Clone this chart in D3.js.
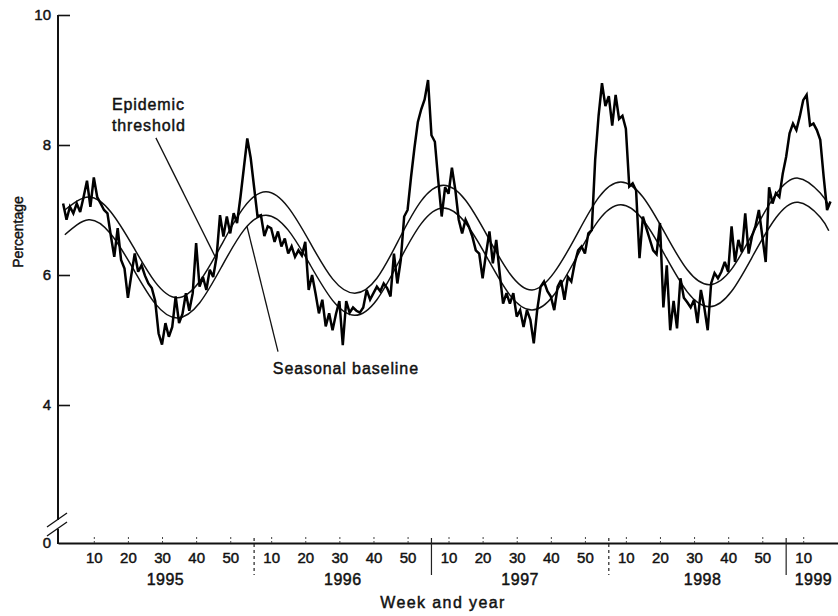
<!DOCTYPE html>
<html>
<head>
<meta charset="utf-8">
<script src="https://cdn.jsdelivr.net/npm/d3@7/dist/d3.min.js"></script>
<style>
  body { margin: 0; background: #fff; }
  svg text { font-family: "Liberation Sans", Arial, Helvetica, sans-serif; fill: #111; stroke: #111; stroke-width: 0.45px; }
</style>
</head>
<body>
<div id="chart"></div>
<script>
// weekly percentage, one array per year (week 1 = first value)
var years = [1995, 1996, 1997, 1998, 1999];
var pct1995 = [7.1, 6.85, 7.05, 6.95, 7.1, 6.97, 7.2, 7.45, 7.05, 7.5, 7.2, 7.1, 7.0, 6.95, 6.6, 6.28, 6.72, 6.23, 6.1, 5.65,
  6.0, 6.33, 6.05, 6.15, 5.99, 5.87, 5.8, 5.6, 5.1, 4.93, 5.26, 5.05, 5.2, 5.67, 5.26, 5.4, 5.72, 5.45, 5.72, 6.49,
  5.82, 5.97, 5.77, 6.08, 5.97, 6.28, 6.92, 6.59, 6.9, 6.64, 6.95, 6.8];
var pct1996 = [7.2, 7.65, 8.1, 7.8, 7.35, 6.9, 6.92, 6.6, 6.75, 6.72, 6.51, 6.67, 6.44, 6.56, 6.33, 6.44, 6.28, 6.38, 6.3, 6.51,
  5.77, 6.0, 5.72, 5.41, 5.62, 5.21, 5.41, 5.15, 5.4, 5.6, 4.92, 5.6, 5.42, 5.5, 5.45, 5.42, 5.5, 5.77, 5.62, 5.72,
  5.82, 5.75, 5.87, 5.8, 5.67, 6.33, 5.87, 6.23, 6.9, 7.0, 7.5, 7.95];
var pct1997 = [8.35, 8.55, 8.7, 9.0, 8.15, 8.05, 7.45, 6.9, 7.35, 7.25, 7.65, 7.31, 6.85, 6.64, 6.85, 6.74, 6.59, 6.38, 6.33, 5.95,
  6.33, 6.67, 6.18, 6.54, 6.03, 5.56, 5.72, 5.56, 5.72, 5.36, 5.46, 5.2, 5.46, 5.31, 4.95, 5.46, 5.82, 5.9, 5.75, 5.67,
  5.46, 5.82, 5.92, 5.62, 5.97, 5.9, 6.18, 6.38, 6.44, 6.33, 6.64, 6.69];
var pct1998 = [7.77, 8.45, 8.95, 8.6, 8.75, 8.3, 8.77, 8.4, 8.45, 8.25, 7.36, 7.41, 7.3, 6.26, 6.9, 6.72, 6.55, 6.38, 6.32, 6.8,
  5.5, 6.15, 5.15, 5.6, 5.18, 5.95, 5.65, 5.58, 5.5, 5.62, 5.26, 5.77, 5.5, 5.15, 5.87, 6.03, 5.95, 6.05, 6.2, 6.05,
  6.75, 6.2, 6.54, 6.35, 6.95, 6.33, 6.6, 6.75, 7.0, 6.6, 6.2, 7.35];
var pct1999 = [7.1, 7.26, 7.2, 7.56, 7.82, 8.18, 8.33, 8.23, 8.44, 8.69, 8.77, 8.3, 8.33, 8.23, 8.08, 7.51, 7.0, 7.13];

// seasonal curves, sampled at running week index
var curveWeeks = [1.5, 8.5, 15, 21.5, 28, 34.5, 41, 47.5, 54, 60.5, 67, 73.5, 80, 86.5, 93, 99.5, 106, 112.5,
  119, 125.5, 132, 138.5, 145, 151.5, 158, 164.5, 171, 177.5, 184, 190.5, 197, 203.5, 210, 216.5, 223, 225.5];
var baseline = [6.62, 6.85, 6.63, 6.10, 5.56, 5.34, 5.57, 6.13, 6.69, 6.92, 6.69, 6.15, 5.61, 5.38, 5.62, 6.21, 6.79, 7.03,
  6.80, 6.25, 5.69, 5.46, 5.70, 6.27, 6.84, 7.08, 6.85, 6.30, 5.74, 5.51, 5.75, 6.32, 6.88, 7.12, 6.89, 6.68];
var threshold = [7.0, 7.2, 6.97, 6.44, 5.89, 5.65, 5.9, 6.47, 7.04, 7.28, 7.04, 6.49, 5.94, 5.72, 5.95, 6.55, 7.14, 7.38,
  7.15, 6.59, 6.02, 5.77, 6.04, 6.61, 7.19, 7.43, 7.2, 6.64, 6.08, 5.85, 6.09, 6.67, 7.24, 7.49, 7.26, 7.07];

var weekTicks = [10, 20, 30, 40, 50];
var yTicks = [0, 4, 6, 8, 10];
var yearLabelWeek = [31, 31, 31, 32.5, 13];

var W = 838, H = 616;
var svg = d3.select('#chart').append('svg').attr('width', W).attr('height', H);

var x = d3.scaleLinear().domain([-0.5, 228.2]).range([58, 838]);
// broken axis: 0 sits just under the break, 2.2..10 is linear
var y = d3.scaleLinear().domain([0, 2.2, 10]).range([543, 522, 15]);

var T = function (yi, wk) { return yi * 52 + wk; };

var series = [];
[pct1995, pct1996, pct1997, pct1998, pct1999].forEach(function (arr, i) {
  arr.forEach(function (v, j) { series.push({ t: T(i, j + 1), v: v }); });
});

// x axis
var tickT = [];
years.forEach(function (yr, i) {
  (i < 4 ? weekTicks : [10]).forEach(function (w) { tickT.push(T(i, w)); });
});
var xAxis = d3.axisBottom(x).tickValues(tickT).tickSize(-7).tickSizeOuter(0).tickPadding(9)
  .tickFormat(function (d) { return (d - 1) % 52 + 1; });
var gx = svg.append('g').attr('transform', 'translate(0,' + y(0) + ')').call(xAxis);
gx.select('.domain').attr('stroke', '#111').attr('stroke-width', 2);
gx.selectAll('.tick line').attr('stroke', '#444').attr('stroke-dasharray', '2,2');
gx.selectAll('.tick text').attr('font-size', 15).attr('fill', '#111');

// year dividers and labels
var dg = svg.append('g');
[0, 1, 2, 3].forEach(function (i) {
  var xx = x(T(i, 57));
  dg.append('line').attr('x1', xx).attr('x2', xx).attr('y1', y(0) - 5).attr('y2', y(0) + 32)
    .attr('stroke', '#222').attr('stroke-width', 1.2)
    .attr('stroke-dasharray', i % 2 === 0 ? '3,3' : null);
});
years.forEach(function (yr, i) {
  svg.append('text').attr('x', x(T(i, yearLabelWeek[i]))).attr('y', 585)
    .attr('text-anchor', 'middle').attr('font-size', 16).attr('letter-spacing', 0.5).text(yr);
});
svg.append('text').attr('x', 443).attr('y', 608).attr('text-anchor', 'middle')
  .attr('font-size', 16).attr('letter-spacing', 1.4).text('Week and year');

// y axis with break
var yAxis = d3.axisLeft(y).tickValues(yTicks).tickSize(-12).tickPadding(7).tickFormat(d3.format('d'));
var gy = svg.append('g').attr('transform', 'translate(58,0)').call(yAxis);
gy.select('.domain').remove();
gy.selectAll('.tick line').attr('stroke', '#111').attr('stroke-width', 1.6)
  .attr('display', function (d) { return d === 0 ? 'none' : null; });
gy.selectAll('.tick text').attr('font-size', 15).attr('fill', '#111');

var by = y(2.0);
svg.append('line').attr('x1', 58).attr('x2', 58).attr('y1', y(10)).attr('y2', by - 4)
  .attr('stroke', '#111').attr('stroke-width', 2);
svg.append('line').attr('x1', 58).attr('x2', 58).attr('y1', by + 5).attr('y2', y(0) + 1)
  .attr('stroke', '#111').attr('stroke-width', 2);
[-4, 5].forEach(function (o) {
  svg.append('line').attr('x1', 47).attr('y1', by + o + 7).attr('x2', 67).attr('y2', by + o - 7)
    .attr('stroke', '#111').attr('stroke-width', 1.3);
});

svg.append('text').attr('transform', 'translate(23,232) rotate(-90)').attr('text-anchor', 'middle')
  .attr('font-size', 14).text('Percentage');

// seasonal curves
var curvePts = function (vals) { return curveWeeks.map(function (t, i) { return [t, vals[i]]; }); };
var smooth = d3.line().x(function (d) { return x(d[0]); }).y(function (d) { return y(d[1]); }).curve(d3.curveNatural);
[baseline, threshold].forEach(function (vals) {
  svg.append('path').attr('d', smooth(curvePts(vals)))
    .attr('fill', 'none').attr('stroke', '#111').attr('stroke-width', 1.5);
});

// observed weekly percentage
var line = d3.line().x(function (d) { return x(d.t); }).y(function (d) { return y(d.v); });
svg.append('path').datum(series).attr('d', line)
  .attr('fill', 'none').attr('stroke', '#000').attr('stroke-width', 2.5)
  .attr('stroke-linejoin', 'miter').attr('stroke-miterlimit', 3);

// annotations (week index, value)
var leaders = [[[28.2, 8.11], [45.5, 6.29]], [[54.9, 6.75], [64, 4.82]]];
leaders.forEach(function (l) {
  svg.append('line').attr('x1', x(l[0][0])).attr('y1', y(l[0][1])).attr('x2', x(l[1][0])).attr('y2', y(l[1][1]))
    .attr('stroke', '#111').attr('stroke-width', 1.3);
});
var notes = [['Epidemic', 15.3, 8.54], ['threshold', 15.3, 8.215], ['Seasonal baseline', 62.5, 4.477]];
notes.forEach(function (n) {
  svg.append('text').attr('x', x(n[1])).attr('y', y(n[2])).attr('font-size', 16)
    .attr('letter-spacing', 0.9).text(n[0]);
});
</script>
</body>
</html>
